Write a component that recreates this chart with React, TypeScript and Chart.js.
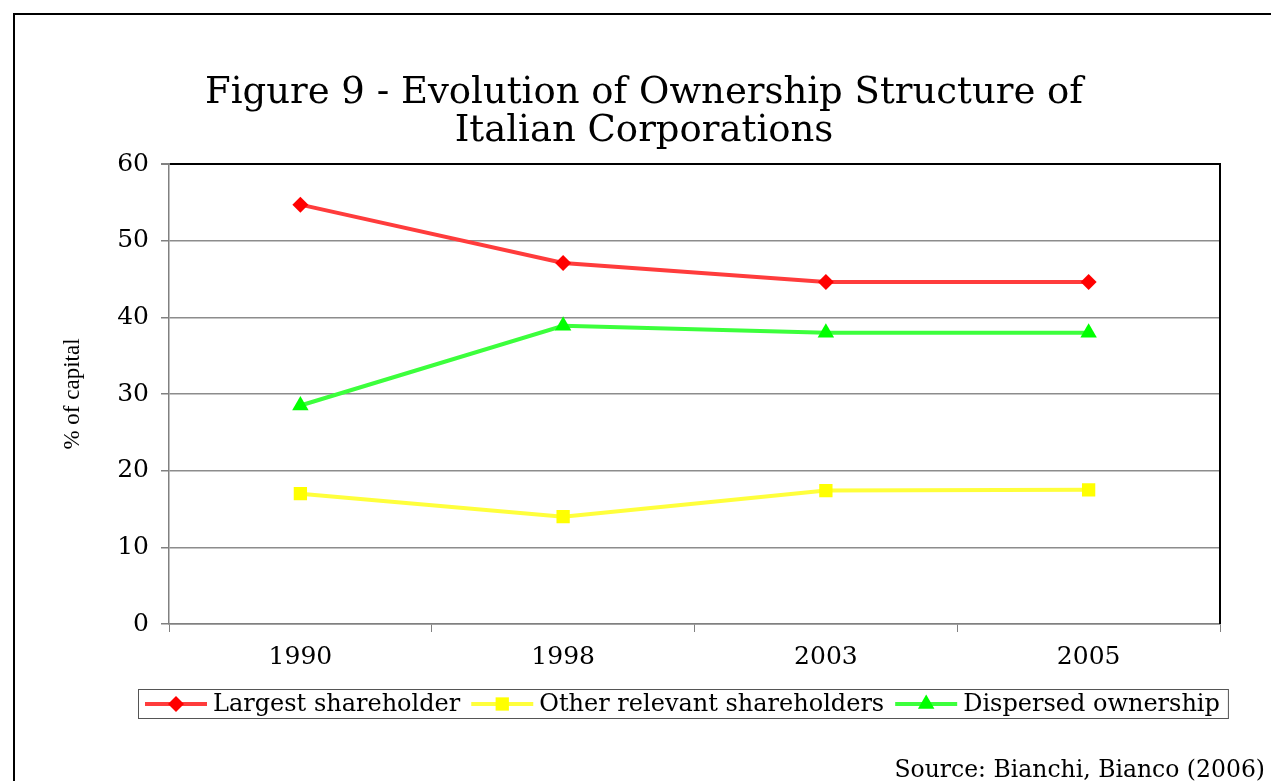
import React, { useEffect, useRef } from "react";
import { Chart, registerables } from "chart.js";
import { drawPoint } from "chart.js/helpers";

Chart.register(...registerables);

const categories = ["1990", "1998", "2003", "2005"];
const largestShareholder = [54.7, 47.1, 44.6, 44.6];
const otherRelevantShareholders = [17.0, 14.0, 17.4, 17.5];
const dispersedOwnership = [28.5, 38.9, 38.0, 38.0];
const seriesLabels = ["Largest shareholder", "Other relevant shareholders", "Dispersed ownership"];
const titleLines = ["Figure 9 - Evolution of Ownership Structure of", "Italian Corporations"];
const yAxisTitle = "% of capital";
const sourceNote = "Source: Bianchi, Bianco (2006)";
const yMin = 0;
const yMax = 60;
const yStep = 10;

const SERIF = "'DejaVu Serif', serif";

const decorPlugin = {
  id: "decor",
  beforeDraw(chart: any) {
    const ctx = chart.ctx;
    ctx.save();
    ctx.fillStyle = "#ffffff";
    ctx.fillRect(0, 0, chart.width, chart.height);
    ctx.strokeStyle = "#000000";
    ctx.lineWidth = 2;
    ctx.beginPath();
    ctx.moveTo(14, chart.height + 5);
    ctx.lineTo(14, 14);
    ctx.lineTo(chart.width + 5, 14);
    ctx.stroke();
    ctx.restore();
  },
  afterDraw(chart: any) {
    const ctx = chart.ctx;
    const area = chart.chartArea;
    ctx.save();
    // right border of plot area
    ctx.strokeStyle = "#000000";
    ctx.lineWidth = 2;
    ctx.beginPath();
    ctx.moveTo(area.right, area.top - 1);
    ctx.lineTo(area.right, area.bottom);
    ctx.stroke();

    // legend
    const legendY = 704;
    const swatchW = 62;
    ctx.font = "24px " + SERIF;
    ctx.textBaseline = "middle";
    ctx.textAlign = "left";
    let x = 145;
    const boxLeft = 138;
    chart.data.datasets.forEach((ds: any) => {
      ctx.strokeStyle = ds.borderColor;
      ctx.lineWidth = 4;
      ctx.beginPath();
      ctx.moveTo(x, legendY);
      ctx.lineTo(x + swatchW, legendY);
      ctx.stroke();
      ctx.fillStyle = ds.pointBackgroundColor;
      ctx.strokeStyle = ds.pointBackgroundColor;
      drawPoint(ctx, { pointStyle: ds.pointStyle, radius: ds.pointRadius, borderWidth: 0, rotation: 0 }, x + swatchW / 2, legendY);
      x += swatchW + 6;
      ctx.fillStyle = "#000000";
      ctx.fillText(ds.label, x, legendY + 1);
      x += ctx.measureText(ds.label).width + 11;
    });
    const boxRight = x - 11 + 8;
    ctx.strokeStyle = "#555555";
    ctx.lineWidth = 1;
    ctx.strokeRect(boxLeft + 0.5, 689.5, boxRight - boxLeft, 29);

    // source note
    ctx.font = "23.5px " + SERIF;
    ctx.textAlign = "right";
    ctx.textBaseline = "alphabetic";
    ctx.fillStyle = "#000000";
    ctx.fillText(sourceNote, 1265, 777);
    ctx.restore();
  },
};

export default function App() {
  const ref = useRef<HTMLCanvasElement | null>(null);

  useEffect(() => {
    if (!ref.current) return;
    const chart = new Chart(ref.current, {
      type: "line",
      data: {
        labels: categories,
        datasets: [
          {
            label: seriesLabels[0],
            data: largestShareholder,
            borderColor: "#ff3c3c",
            borderWidth: 4,
            pointStyle: "rectRot",
            pointRadius: 8,
            pointBackgroundColor: "#ff0000",
            pointBorderWidth: 0,
            tension: 0,
          },
          {
            label: seriesLabels[1],
            data: otherRelevantShareholders,
            borderColor: "#ffff3c",
            borderWidth: 4,
            pointStyle: "rect",
            pointRadius: 9.4,
            pointBackgroundColor: "#ffff00",
            pointBorderWidth: 0,
            tension: 0,
          },
          {
            label: seriesLabels[2],
            data: dispersedOwnership,
            borderColor: "#3cff3c",
            borderWidth: 4,
            pointStyle: "triangle",
            pointRadius: 9.5,
            pointBackgroundColor: "#00ff00",
            pointBorderWidth: 0,
            tension: 0,
          },
        ],
      },
      options: {
        responsive: false,
        animation: false,
        layout: { padding: { left: 68, right: 51, top: 10, bottom: 60 } },
        plugins: {
          legend: { display: false },
          tooltip: { enabled: false },
          title: {
            display: true,
            text: titleLines,
            color: "#000000",
            font: { family: SERIF, size: 37, weight: "normal", lineHeight: 38 / 37 },
            padding: { top: 64, bottom: 14 },
            fullSize: true,
          },
        },
        scales: {
          x: {
            type: "category",
            offset: true,
            grid: {
              offset: true,
              drawOnChartArea: false,
              drawTicks: true,
              tickLength: 8,
              tickColor: "#808080",
              color: "#808080",
            },
            border: { display: true, color: "#808080", width: 1.5 },
            ticks: {
              color: "#000000",
              font: { family: SERIF, size: 25 },
              padding: 10,
              maxRotation: 0,
            },
            afterFit(scale: any) {
              scale.height = 97;
            },
          },
          y: {
            min: yMin,
            max: yMax,
            ticks: {
              stepSize: yStep,
              color: "#000000",
              font: { family: SERIF, size: 25 },
              padding: 12,
            },
            grid: {
              color: (c: any) => (c.tick && c.tick.value === yMax ? "#000000" : "#8c8c8c"),
              lineWidth: (c: any) => (c.tick && c.tick.value === yMax ? 2 : 1.5),
              tickLength: 8,
              tickColor: "#808080",
            },
            border: { display: true, color: "#808080", width: 1.5 },
            title: {
              display: true,
              text: yAxisTitle,
              color: "#000000",
              font: { family: "'Liberation Serif', serif", size: 23, lineHeight: 0.4 },
              padding: { top: 0, bottom: 0 },
            },
            afterFit(scale: any) {
              scale.width = 101;
            },
          },
        },
      },
      plugins: [decorPlugin],
    });
    return () => chart.destroy();
  }, []);

  return (
    <div style={{ position: "fixed", left: 0, top: 0, width: 1271, height: 781, background: "#fff" }}>
      <canvas ref={ref} width={1271} height={781} style={{ display: "block" }} />
    </div>
  );
}
